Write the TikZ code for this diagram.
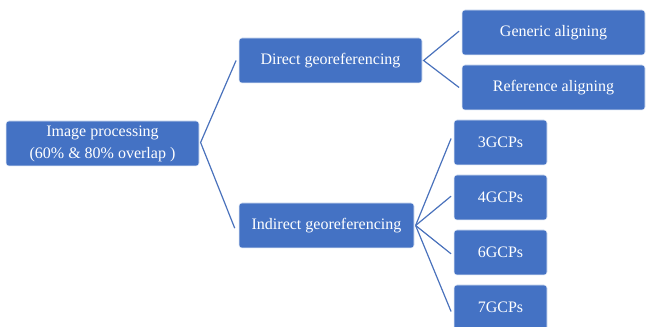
\documentclass[tikz,border=0pt]{standalone}
\usepackage{fontspec}
\setmainfont{Liberation Serif}
\definecolor{boxblue}{HTML}{4472C4}
\definecolor{lineblue}{HTML}{4A72BC}
\begin{document}
\begin{tikzpicture}[x=0.75pt,y=-0.75pt,
  box/.style={fill=boxblue,draw=white!85!boxblue,line width=0.4pt,rounded corners=2.2pt,
    text=white,font=\fontsize{12}{16.5}\selectfont,align=center,inner sep=0pt,
    minimum height=33.75pt},
  conn/.style={draw=lineblue,line width=0.9pt}]
\useasboundingbox (0,0) rectangle (646,327);
\clip (0,0) rectangle (646,327);
\node[box,minimum width=144.75pt] (ip) at (102.5,143.5) {Image processing\\(60\% \& 80\% overlap )};
\node[box,minimum width=137.25pt] (direct) at (330.5,60.5) {Direct georeferencing};
\node[box,minimum width=131.25pt] (indirect) at (326.5,225.5) {Indirect georeferencing};
\node[box,minimum width=137.25pt] (generic) at (553.5,32.5) {Generic aligning};
\node[box,minimum width=137.25pt] (reference) at (553.5,87.5) {Reference aligning};
\node[box,minimum width=69.75pt] (g3) at (500.5,142.5) {3GCPs};
\node[box,minimum width=69.75pt] (g4) at (500.5,197.5) {4GCPs};
\node[box,minimum width=69.75pt] (g6) at (500.5,252.5) {6GCPs};
\node[box,minimum width=69.75pt] (g7) at (500.5,307.5) {7GCPs};
\coordinate (ipo) at ([xshift=1pt,yshift=0.75pt]ip.east);
\coordinate (dio) at ([xshift=1pt]direct.east);
\coordinate (ino) at ([xshift=1pt]indirect.east);
\draw[conn] ([xshift=-2pt]direct.west) -- (ipo) -- ([xshift=-3pt,yshift=-2pt]indirect.west);
\draw[conn] ([xshift=-2pt,yshift=1pt]generic.west) -- (dio) -- ([xshift=-2pt]reference.west);
\draw[conn] ([xshift=-2pt,yshift=3pt]g3.west) -- (ino);
\draw[conn] ([xshift=-2pt,yshift=1pt]g4.west) -- (ino);
\draw[conn] ([xshift=-2pt,yshift=-1pt]g6.west) -- (ino);
\draw[conn] ([xshift=-2pt,yshift=-3pt]g7.west) -- (ino);
\end{tikzpicture}
\end{document}
